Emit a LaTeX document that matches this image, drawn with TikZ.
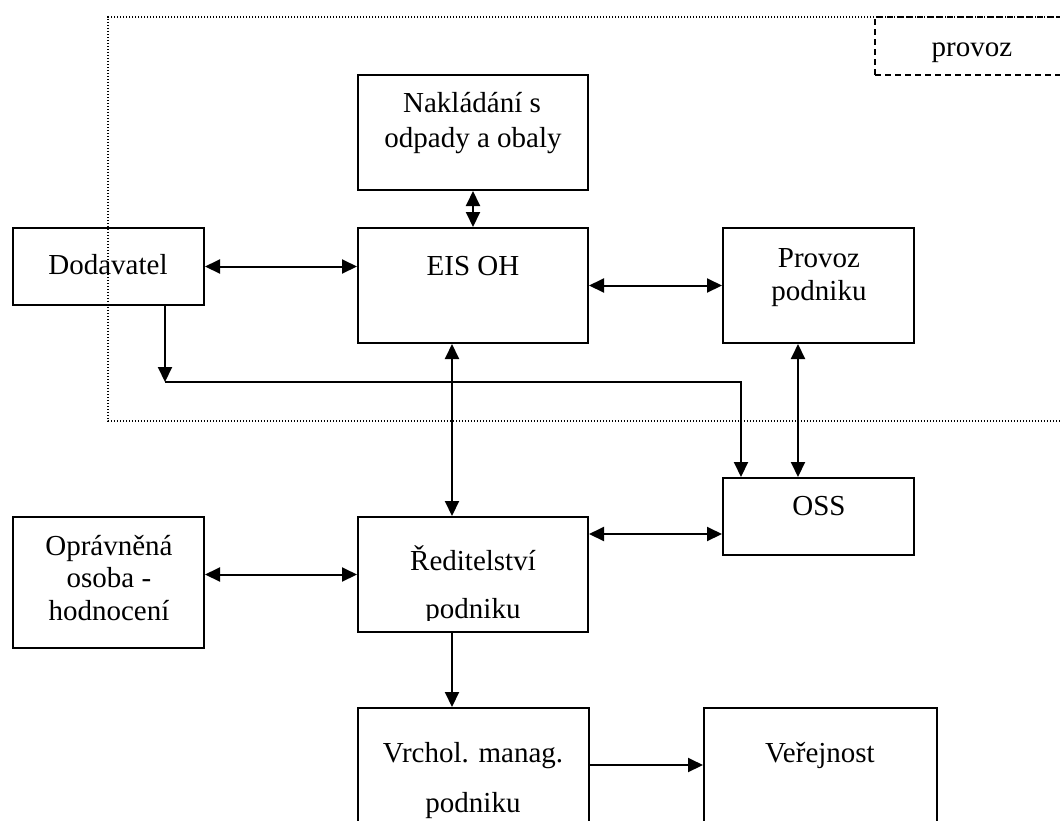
\documentclass[tikz,border=0pt]{standalone}
\usepackage{fontspec}
\setmainfont{Liberation Serif}
\usetikzlibrary{arrows.meta,calc}
\tikzset{
  box/.style={draw, line width=2pt, rectangle, inner sep=0pt},
  lbl/.style={anchor=base, inner sep=0pt, font=\fontsize{29}{33}\selectfont},
  tip/.tip={Triangle[length=15pt,width=14pt]},
  arr/.style={line width=2pt, -tip},
  darr/.style={line width=2pt, tip-tip},
  ln/.style={line width=2pt},
}
\begin{document}
\begin{tikzpicture}[x=1pt,y=-1pt]
\clip (0,0) rectangle (1060,820);
\fill[white] (0,0) rectangle (1060,820);
% operating area
\draw[line width=1.1pt, dash pattern=on 1.1pt off 1.9pt] (1075,17) -- (108,17) -- (108,421) -- (1075,421);
\node[draw, line width=1.4pt, dash pattern=on 6pt off 4pt, minimum width=200pt, minimum height=58pt, inner sep=0pt] (prz) at (975,46) {};
\node[lbl] (przt) at (972,56) {provoz};
% boxes
\node[box, minimum width=230pt, minimum height=115pt] (nak)  at (473,132.5) {};
\node[box, minimum width=230pt, minimum height=115pt] (eis)  at (473,285.5) {};
\node[box, minimum width=191pt, minimum height=77pt]  (dod)  at (108.5,266.5) {};
\node[box, minimum width=191pt, minimum height=115pt] (prov) at (818.5,285.5) {};
\node[box, minimum width=191pt, minimum height=77pt]  (oss)  at (818.5,516.5) {};
\node[box, minimum width=230pt, minimum height=115pt] (red)  at (473,574.5) {};
\node[box, minimum width=191pt, minimum height=131pt] (opr)  at (108.5,582.5) {};
\node[box, minimum width=231pt, minimum height=132pt] (vrch) at (473.5,774) {};
\node[box, minimum width=233pt, minimum height=132pt] (ver)  at (820.5,774) {};
% texts
\node[lbl] (nak1) at (472,112) {Nakládání s};
\node[lbl] (nak2) at (473,147) {odpady a obaly};
\node[lbl] (eis1) at (473,275) {EIS OH};
\node[lbl] (dod1) at (108,274) {Dodavatel};
\node[lbl] (prov1) at (819,267) {Provoz};
\node[lbl] (prov2) at (819,300) {podniku};
\node[lbl] (oss1) at (819,515) {OSS};
\node[lbl] (opr1) at (109,555) {Oprávněná};
\node[lbl] (opr2) at (109,587) {osoba -};
\node[lbl] (opr3) at (109,620) {hodnocení};
\node[lbl] (red1) at (473,570) {Ředitelství};
\begin{scope}
\clip (358,590) rectangle (588,620);
\node[lbl] (red2) at (473,618) {podniku};
\end{scope}
\node[lbl] (vrch1) at (473,762) {Vrchol. manag.};
\node[lbl] (vrch2) at (473,812) {podniku};
\node[lbl] (ver1) at (820,762) {Veřejnost};
% connectors
\draw[darr] (nak.south) -- (eis.north);
\draw[darr] (dod.east) -- (dod.east -| eis.west);
\draw[darr] (eis.east) -- (prov.west);
\coordinate (dd) at ($(dod.south west)+(153,0)$);
\coordinate (bend) at ($(dd)+(0,76)$);
\draw[arr] (dd) -- (bend);
\coordinate (ossin) at ($(oss.north west)+(19,0)$);
\draw[arr] (bend) -| (ossin);
\draw[darr] ($(prov.south west)+(76,0)$) -- ($(oss.north west)+(76,0)$);
\draw[darr] ($(eis.south west)+(95,0)$) -- ($(red.north west)+(95,0)$);
\draw[darr] ($(red.north east)+(0,18)$) -- ($(oss.north west)+(0,57)$);
\draw[darr] (opr.east |- red.west) -- (red.west);
\draw[arr] ($(red.south west)+(95,0)$) -- ($(vrch.north west)+(95,0)$);
\draw[arr] ($(vrch.north east)+(0,58)$) -- ($(ver.north west)+(0,58)$);
\end{tikzpicture}
\end{document}
